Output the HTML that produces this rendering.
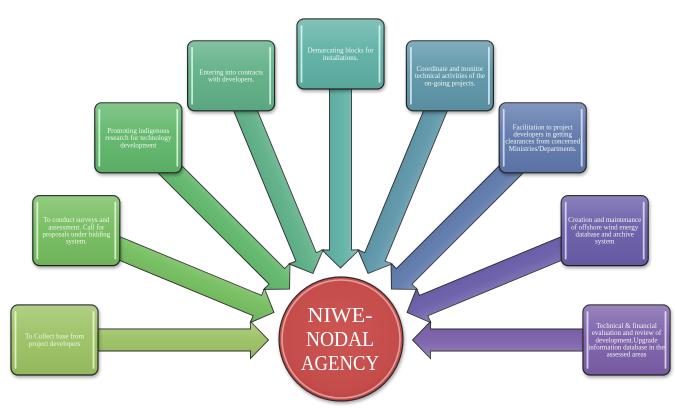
<!DOCTYPE html>
<html><head><meta charset="utf-8"><style>
html,body{margin:0;padding:0;background:#fff;}
svg{display:block;}
.bt{font-family:"Liberation Serif",serif;font-size:7px;fill:#f2f6ec;text-anchor:middle;}
.ct{font-family:"Liberation Serif",serif;font-size:21px;fill:#fff;text-anchor:middle;}
</style></head><body>
<svg width="675" height="408" viewBox="0 0 675 408" xmlns="http://www.w3.org/2000/svg">
<defs>
  <filter id="sh" x="-20%" y="-20%" width="140%" height="140%">
    <feGaussianBlur in="SourceAlpha" stdDeviation="1.5"/>
    <feOffset dx="1" dy="2" result="o"/>
    <feComponentTransfer><feFuncA type="linear" slope="0.35"/></feComponentTransfer>
    <feMerge><feMergeNode/><feMergeNode in="SourceGraphic"/></feMerge>
  </filter>
  <linearGradient id="gl" x1="0" y1="0" x2="0" y2="1">
    <stop offset="0" stop-color="#fff" stop-opacity="0.22"/>
    <stop offset="0.45" stop-color="#fff" stop-opacity="0.04"/>
    <stop offset="1" stop-color="#000" stop-opacity="0.06"/>
  </linearGradient>
  <radialGradient id="cg" cx="0.5" cy="0.45" r="0.55">
    <stop offset="0" stop-color="#cc5553"/>
    <stop offset="0.85" stop-color="#c44d4b"/>
    <stop offset="1" stop-color="#b84442"/>
  </radialGradient>
  <path id="arr" d="M-286,-11 L-90,-11 L-90,-18.5 L-72,0 L-90,18.5 L-90,11 L-286,11 Z"/>
</defs>

<!-- arrows -->
<g transform="translate(340.5,340)" stroke="#2b2b2b" stroke-width="0.9" stroke-linejoin="miter">
  <g transform="rotate(22.5)"><use href="#arr" fill="#74bd5e"/><use href="#arr" fill="url(#gl)" stroke="none"/></g>
  <g transform="rotate(0)"><use href="#arr" fill="#9bc263"/><use href="#arr" fill="url(#gl)" stroke="none"/></g>
  <g transform="rotate(45)"><use href="#arr" fill="#61b76b"/><use href="#arr" fill="url(#gl)" stroke="none"/></g>
  <g transform="rotate(67.5)"><use href="#arr" fill="#5eb087"/><use href="#arr" fill="url(#gl)" stroke="none"/></g>
  <g transform="rotate(157.5)"><use href="#arr" fill="#6a5da9"/><use href="#arr" fill="url(#gl)" stroke="none"/></g>
  <g transform="rotate(180)"><use href="#arr" fill="#7b60aa"/><use href="#arr" fill="url(#gl)" stroke="none"/></g>
  <g transform="rotate(135)"><use href="#arr" fill="#5e79ad"/><use href="#arr" fill="url(#gl)" stroke="none"/></g>
  <g transform="rotate(112.5)"><use href="#arr" fill="#5d96a9"/><use href="#arr" fill="url(#gl)" stroke="none"/></g>
  <g transform="rotate(90)"><use href="#arr" fill="#5fb1a5"/><use href="#arr" fill="url(#gl)" stroke="none"/></g>
</g>

<!-- boxes -->
<g>
  <!-- k0 -->
  <g transform="translate(54.5,340)">
    <rect x="-43.5" y="-35" width="87" height="70" rx="7" fill="#9bc263" stroke="#222" stroke-width="1.2" filter="url(#sh)"/>
    <rect x="-43.5" y="-35" width="87" height="70" rx="7" fill="url(#gl)"/>
    <line x1="-39" y1="-28" x2="-39" y2="28" stroke="#f4ffe0" stroke-opacity="0.75" stroke-width="1.8" stroke-linecap="round"/>
    <line x1="39" y1="-28" x2="39" y2="28" stroke="#f4ffe0" stroke-opacity="0.75" stroke-width="1.8" stroke-linecap="round"/>
    <text class="bt" x="0" y="-1.3">To Collect base from</text>
    <text class="bt" x="0" y="5.9">project developers</text>
  </g>
  <!-- k1 -->
  <g transform="translate(76.3,230.6)">
    <rect x="-43.5" y="-35" width="87" height="70" rx="7" fill="#74bd5e" stroke="#222" stroke-width="1.2" filter="url(#sh)"/>
    <rect x="-43.5" y="-35" width="87" height="70" rx="7" fill="url(#gl)"/>
    <line x1="-39" y1="-28" x2="-39" y2="28" stroke="#f0ffe6" stroke-opacity="0.75" stroke-width="1.8" stroke-linecap="round"/>
    <line x1="39" y1="-28" x2="39" y2="28" stroke="#f0ffe6" stroke-opacity="0.75" stroke-width="1.8" stroke-linecap="round"/>
    <text class="bt" x="0" y="-8.5">To conduct surveys and</text>
    <text class="bt" x="0" y="-1.3">assessment. Call for</text>
    <text class="bt" x="0" y="5.9">proposals under bidding</text>
    <text class="bt" x="0" y="13.1">system.</text>
  </g>
  <!-- k2 -->
  <g transform="translate(138.3,137.8)">
    <rect x="-43.5" y="-35" width="87" height="70" rx="7" fill="#61b76b" stroke="#222" stroke-width="1.2" filter="url(#sh)"/>
    <rect x="-43.5" y="-35" width="87" height="70" rx="7" fill="url(#gl)"/>
    <line x1="-39" y1="-28" x2="-39" y2="28" stroke="#eafff0" stroke-opacity="0.75" stroke-width="1.8" stroke-linecap="round"/>
    <line x1="39" y1="-28" x2="39" y2="28" stroke="#eafff0" stroke-opacity="0.75" stroke-width="1.8" stroke-linecap="round"/>
    <text class="bt" x="0" y="-4.9">Promoting indigenous</text>
    <text class="bt" x="0" y="2.3">research for technology</text>
    <text class="bt" x="0" y="9.5">development</text>
  </g>
  <!-- k3 -->
  <g transform="translate(231.1,75.8)">
    <rect x="-43.5" y="-35" width="87" height="70" rx="7" fill="#5eb087" stroke="#222" stroke-width="1.2" filter="url(#sh)"/>
    <rect x="-43.5" y="-35" width="87" height="70" rx="7" fill="url(#gl)"/>
    <line x1="-39" y1="-28" x2="-39" y2="28" stroke="#e8fff6" stroke-opacity="0.75" stroke-width="1.8" stroke-linecap="round"/>
    <line x1="39" y1="-28" x2="39" y2="28" stroke="#e8fff6" stroke-opacity="0.75" stroke-width="1.8" stroke-linecap="round"/>
    <text class="bt" x="0" y="-1.3">Entering into contracts</text>
    <text class="bt" x="0" y="5.9">with developers.</text>
  </g>
  <!-- k4 -->
  <g transform="translate(340.5,54)">
    <rect x="-43.5" y="-35" width="87" height="70" rx="7" fill="#5fb1a5" stroke="#222" stroke-width="1.2" filter="url(#sh)"/>
    <rect x="-43.5" y="-35" width="87" height="70" rx="7" fill="url(#gl)"/>
    <line x1="-39" y1="-28" x2="-39" y2="28" stroke="#e8fffc" stroke-opacity="0.75" stroke-width="1.8" stroke-linecap="round"/>
    <line x1="39" y1="-28" x2="39" y2="28" stroke="#e8fffc" stroke-opacity="0.75" stroke-width="1.8" stroke-linecap="round"/>
    <text class="bt" x="0" y="-1.3">Demarcating blocks for</text>
    <text class="bt" x="0" y="5.9">installations.</text>
  </g>
  <!-- k5 -->
  <g transform="translate(449.9,75.8)">
    <rect x="-43.5" y="-35" width="87" height="70" rx="7" fill="#5d96a9" stroke="#222" stroke-width="1.2" filter="url(#sh)"/>
    <rect x="-43.5" y="-35" width="87" height="70" rx="7" fill="url(#gl)"/>
    <line x1="-39" y1="-28" x2="-39" y2="28" stroke="#e8f8ff" stroke-opacity="0.75" stroke-width="1.8" stroke-linecap="round"/>
    <line x1="39" y1="-28" x2="39" y2="28" stroke="#e8f8ff" stroke-opacity="0.75" stroke-width="1.8" stroke-linecap="round"/>
    <text class="bt" x="0" y="-4.9">Coordinate and monitor</text>
    <text class="bt" x="0" y="2.3">technical activities of the</text>
    <text class="bt" x="0" y="9.5">on-going projects.</text>
  </g>
  <!-- k6 -->
  <g transform="translate(542.7,137.8)">
    <rect x="-43.5" y="-35" width="87" height="70" rx="7" fill="#5e79ad" stroke="#222" stroke-width="1.2" filter="url(#sh)"/>
    <rect x="-43.5" y="-35" width="87" height="70" rx="7" fill="url(#gl)"/>
    <line x1="-39" y1="-28" x2="-39" y2="28" stroke="#eef2ff" stroke-opacity="0.75" stroke-width="1.8" stroke-linecap="round"/>
    <line x1="39" y1="-28" x2="39" y2="28" stroke="#eef2ff" stroke-opacity="0.75" stroke-width="1.8" stroke-linecap="round"/>
    <text class="bt" x="0" y="-8.5">Facilitation to project</text>
    <text class="bt" x="0" y="-1.3">developers in getting</text>
    <text class="bt" x="0" y="5.9">clearances from concerned</text>
    <text class="bt" x="0" y="13.1">Ministries/Departments.</text>
  </g>
  <!-- k7 -->
  <g transform="translate(604.7,230.6)">
    <rect x="-43.5" y="-35" width="87" height="70" rx="7" fill="#6a5da9" stroke="#222" stroke-width="1.2" filter="url(#sh)"/>
    <rect x="-43.5" y="-35" width="87" height="70" rx="7" fill="url(#gl)"/>
    <line x1="-39" y1="-28" x2="-39" y2="28" stroke="#f2eeff" stroke-opacity="0.75" stroke-width="1.8" stroke-linecap="round"/>
    <line x1="39" y1="-28" x2="39" y2="28" stroke="#f2eeff" stroke-opacity="0.75" stroke-width="1.8" stroke-linecap="round"/>
    <text class="bt" x="0" y="-8.5">Creation and maintenance</text>
    <text class="bt" x="0" y="-1.3">of offshore wind energy</text>
    <text class="bt" x="0" y="5.9">database and archive</text>
    <text class="bt" x="0" y="13.1">system</text>
  </g>
  <!-- k8 -->
  <g transform="translate(626.5,340)">
    <rect x="-43.5" y="-35" width="87" height="70" rx="7" fill="#7b60aa" stroke="#222" stroke-width="1.2" filter="url(#sh)"/>
    <rect x="-43.5" y="-35" width="87" height="70" rx="7" fill="url(#gl)"/>
    <line x1="-39" y1="-28" x2="-39" y2="28" stroke="#f4eeff" stroke-opacity="0.75" stroke-width="1.8" stroke-linecap="round"/>
    <line x1="39" y1="-28" x2="39" y2="28" stroke="#f4eeff" stroke-opacity="0.75" stroke-width="1.8" stroke-linecap="round"/>
    <text class="bt" x="0" y="-12.1">Technical &amp; financial</text>
    <text class="bt" x="0" y="-4.9">evaluation and review of</text>
    <text class="bt" x="0" y="2.3">development.Upgrade</text>
    <text class="bt" x="0" y="9.5">information database in the</text>
    <text class="bt" x="0" y="16.7">assessed areas</text>
  </g>
</g>

<!-- center circle -->
<g filter="url(#sh)">
  <circle cx="341" cy="339" r="62" fill="url(#cg)" stroke="#2a2a2a" stroke-width="1.2"/>
</g>
<circle cx="341" cy="339" r="59" fill="none" stroke="#f3c2c0" stroke-opacity="0.7" stroke-width="1.6"/>
<text class="ct" x="340" y="322" textLength="65" lengthAdjust="spacingAndGlyphs">NIWE-</text>
<text class="ct" x="340" y="346" textLength="68" lengthAdjust="spacingAndGlyphs">NODAL</text>
<text class="ct" x="340" y="370" textLength="78" lengthAdjust="spacingAndGlyphs">AGENCY</text>
</svg>
</body></html>
